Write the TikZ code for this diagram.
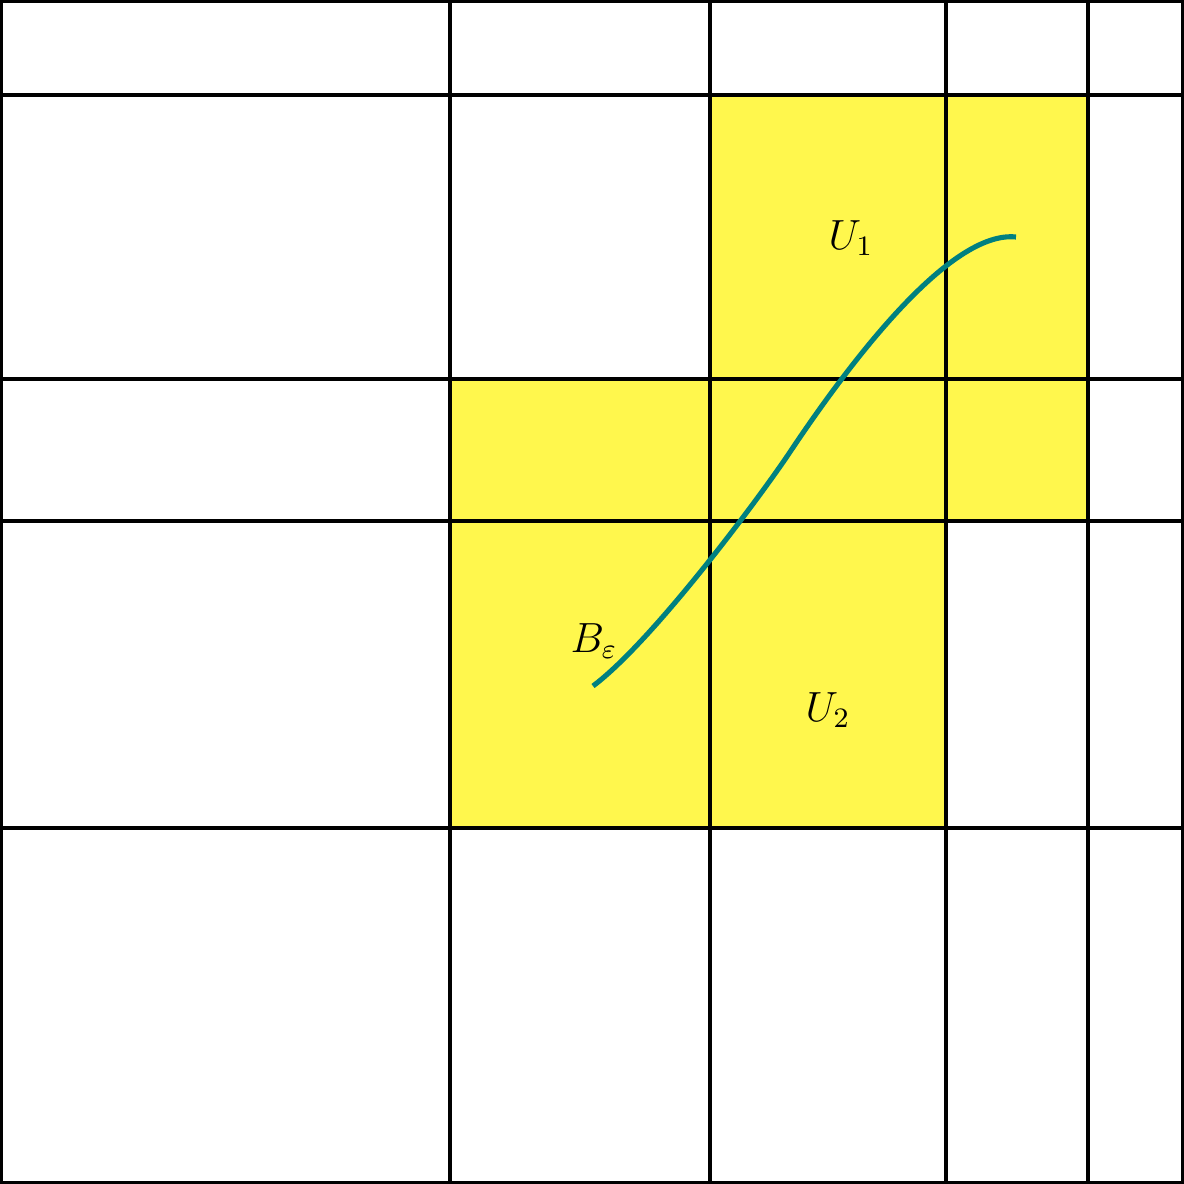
\documentclass[tikz,border=0pt]{standalone}
\begin{document}
\begin{tikzpicture}[x=0.01cm,y=-0.01cm,
  grid/.style={line width=0.95pt,black},
  curve/.style={line width=1.45pt,tealc,line cap=butt},
  lab/.style={font=\fontsize{11.5}{14}\selectfont,inner sep=0pt}]
\definecolor{yfill}{RGB}{255,247,77}
\definecolor{tealc}{RGB}{0,128,128}
\useasboundingbox (0,0) rectangle (1184,1184);
% yellow cells
\fill[yfill] (710,95) rectangle (1088,379);
\fill[yfill] (450,379) rectangle (1088,521);
\fill[yfill] (450,521) rectangle (946,828);
% grid
\foreach \x in {450,710,946,1088} \draw[grid] (\x,0) -- (\x,1184);
\foreach \y in {95,379,521,828} \draw[grid] (0,\y) -- (1184,\y);
\draw[grid] (1.6,1.6) rectangle (1182.4,1182.4);
% curve
\coordinate (cs) at (593,686);
\coordinate (cm) at (790,452);
\coordinate (ce) at (1016,237);
\draw[curve] (cs) .. controls (653,641) and (760,497) .. (cm)
  .. controls (850,362) and (950,230) .. (ce);
% labels
\node[lab] (u1) at (851,238) {$U_1$};
\node[lab] (u2) at (828,710) {$U_2$};
\node[lab] (be) at (594,641) {$B_\varepsilon$};
\end{tikzpicture}
\end{document}
